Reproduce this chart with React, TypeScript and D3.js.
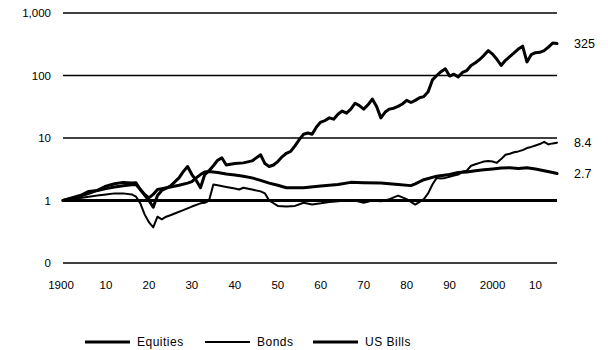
import React from "react";
import * as d3 from "d3";

// Cumulative real value of 1 invested in 1900 (log scale)
const equityYears = [1900,1902,1904,1906,1908,1910,1912,1914,1916,1917,1918,1920,1921,1922,1923,1925,1927,1928,1929,1930,1931,1932,1933,1934,1935,1936,1937,1938,1940,1942,1944,1946,1947,1948,1949,1950,1951,1952,1953,1954,1955,1956,1957,1958,1959,1960,1961,1962,1963,1964,1965,1966,1967,1968,1969,1970,1971,1972,1973,1974,1975,1976,1977,1978,1979,1980,1981,1982,1983,1984,1985,1986,1987,1988,1989,1990,1991,1992,1993,1994,1995,1996,1997,1998,1999,2000,2001,2002,2003,2004,2005,2006,2007,2008,2009,2010,2011,2012,2013,2014,2015];
const equityValues = [1.0,1.1,1.2,1.4,1.45,1.7,1.85,1.95,1.9,1.92,1.5,1.0,0.78,1.2,1.45,1.7,2.3,2.9,3.5,2.6,2.1,1.6,2.6,3.0,3.6,4.4,4.8,3.7,3.9,4.0,4.3,5.4,3.9,3.5,3.7,4.2,5.0,5.7,6.1,7.5,9.4,11.5,12,11.5,15,18,19,21,20,24,27,25,29,36,33,29,34,42,32,21,26,29,30,32,35,40,37,40,44,46,55,85,100,115,128,98,105,95,112,120,145,160,180,210,250,220,182,145,175,200,230,265,295,165,215,232,235,250,285,330,325];

const bondYears = [1900,1902,1904,1906,1908,1910,1912,1914,1916,1917,1918,1919,1920,1921,1922,1923,1924,1925,1926,1928,1930,1932,1933,1934,1935,1936,1938,1940,1941,1942,1944,1946,1947,1948,1950,1952,1954,1956,1958,1960,1962,1964,1966,1968,1970,1972,1974,1976,1978,1980,1982,1983,1984,1985,1986,1987,1988,1989,1990,1991,1992,1993,1994,1995,1996,1997,1998,1999,2000,2001,2002,2003,2004,2005,2006,2007,2008,2009,2010,2011,2012,2013,2014,2015];
const bondValues = [1.0,1.05,1.1,1.15,1.2,1.25,1.3,1.3,1.25,1.15,0.9,0.6,0.45,0.37,0.55,0.5,0.55,0.58,0.62,0.7,0.8,0.9,0.92,1.0,1.8,1.75,1.65,1.55,1.5,1.6,1.5,1.4,1.3,1.0,0.82,0.8,0.82,0.92,0.86,0.9,0.95,0.97,1.0,1.0,0.92,1.0,0.97,1.05,1.2,1.05,0.86,0.95,1.05,1.3,1.8,2.3,2.25,2.3,2.4,2.5,2.6,2.9,3.0,3.6,3.8,4.0,4.2,4.3,4.2,4.0,4.6,5.4,5.6,5.9,6.1,6.4,6.9,7.2,7.6,8.0,8.7,7.9,8.2,8.4];

const billYears = [1900,1902,1904,1906,1908,1910,1912,1914,1916,1917,1918,1919,1920,1921,1922,1923,1925,1927,1929,1930,1931,1932,1933,1934,1936,1938,1940,1942,1944,1946,1948,1950,1952,1956,1960,1964,1967,1970,1974,1978,1981,1982,1984,1987,1990,1992,1994,1996,1998,2000,2002,2004,2006,2008,2010,2012,2014,2015];
const billValues = [1.0,1.08,1.18,1.3,1.45,1.55,1.65,1.72,1.78,1.8,1.5,1.25,1.1,1.25,1.5,1.55,1.65,1.75,1.9,2.0,2.3,2.6,2.85,2.9,2.8,2.65,2.55,2.45,2.3,2.1,1.9,1.75,1.6,1.6,1.7,1.8,1.95,1.92,1.9,1.8,1.73,1.85,2.15,2.45,2.6,2.8,2.85,3.0,3.1,3.2,3.3,3.35,3.25,3.35,3.2,3.0,2.8,2.7];

const xTickYears = [1900,1910,1920,1930,1940,1950,1960,1970,1980,1990,2000,2010];
const xTickLabels = ["1900","10","20","30","40","50","60","70","80","90","2000","10"];
const yTickValues = [1000, 100, 10, 1, 0.1];
const yTickLabels = ["1,000", "100", "10", "1", "0"];

const seriesNames = ["Equities", "Bonds", "US Bills"];
const endLabels = ["325", "8.4", "2.7"];

const FONT = "'Liberation Sans', Arial, Helvetica, sans-serif";

export default function App() {
  const width = 608;
  const height = 350;
  const x = d3.scaleLinear().domain([1900, 2015]).range([63, 557]);
  const y = d3.scaleLog().domain([0.1, 1000]).range([263, 13]);

  const line = d3
    .line<[number, number]>()
    .x((d) => x(d[0]))
    .y((d) => y(d[1]))
    .curve(d3.curveLinear);

  const series = [
    { name: seriesNames[0], pts: equityYears.map((yr, i) => [yr, equityValues[i]] as [number, number]), w: 3, label: endLabels[0] },
    { name: seriesNames[1], pts: bondYears.map((yr, i) => [yr, bondValues[i]] as [number, number]), w: 2, label: endLabels[1] },
    { name: seriesNames[2], pts: billYears.map((yr, i) => [yr, billValues[i]] as [number, number]), w: 3, label: endLabels[2] },
  ];

  const legendX = [85, 205, 313];

  return (
    <svg
      width={width}
      height={height}
      style={{ position: "absolute", left: 0, top: 0, background: "#fff" }}
      fontFamily={FONT}
    >
      {/* horizontal gridlines with the unit line drawn heavier */}
      {yTickValues.map((v, i) => (
        <g key={"g" + v}>
          <line
            x1={x(1900)}
            x2={x(2015)}
            y1={y(v)}
            y2={y(v)}
            stroke="#000"
            strokeWidth={v === 1 ? 3 : 1.6}
          />
          <text x={51} y={y(v) + 4} textAnchor="end" fontSize={11.5} fill="#000">
            {yTickLabels[i]}
          </text>
        </g>
      ))}

      {xTickYears.map((yr, i) => (
        <text key={"x" + yr} x={x(yr) - (i === 0 ? 2 : 0)} y={289} textAnchor="middle" fontSize={11.5} fill="#000">
          {xTickLabels[i]}
        </text>
      ))}

      {series.map((s) => (
        <path
          key={s.name}
          d={line(s.pts) || ""}
          fill="none"
          stroke="#000"
          strokeWidth={s.w}
          strokeLinejoin="round"
          strokeLinecap="round"
        />
      ))}

      {series.map((s) => {
        const last = s.pts[s.pts.length - 1];
        return (
          <text key={"l" + s.name} x={574} y={y(last[1]) + 4} fontSize={12.5} fill="#000">
            {s.label}
          </text>
        );
      })}

      {series.map((s, i) => (
        <g key={"leg" + s.name}>
          <line x1={legendX[i]} x2={legendX[i] + 45} y1={342} y2={342} stroke="#000" strokeWidth={s.w} />
          <text x={legendX[i] + 52} y={346} fontSize={12} letterSpacing={0.5} fill="#000">
            {s.name}
          </text>
        </g>
      ))}
    </svg>
  );
}
